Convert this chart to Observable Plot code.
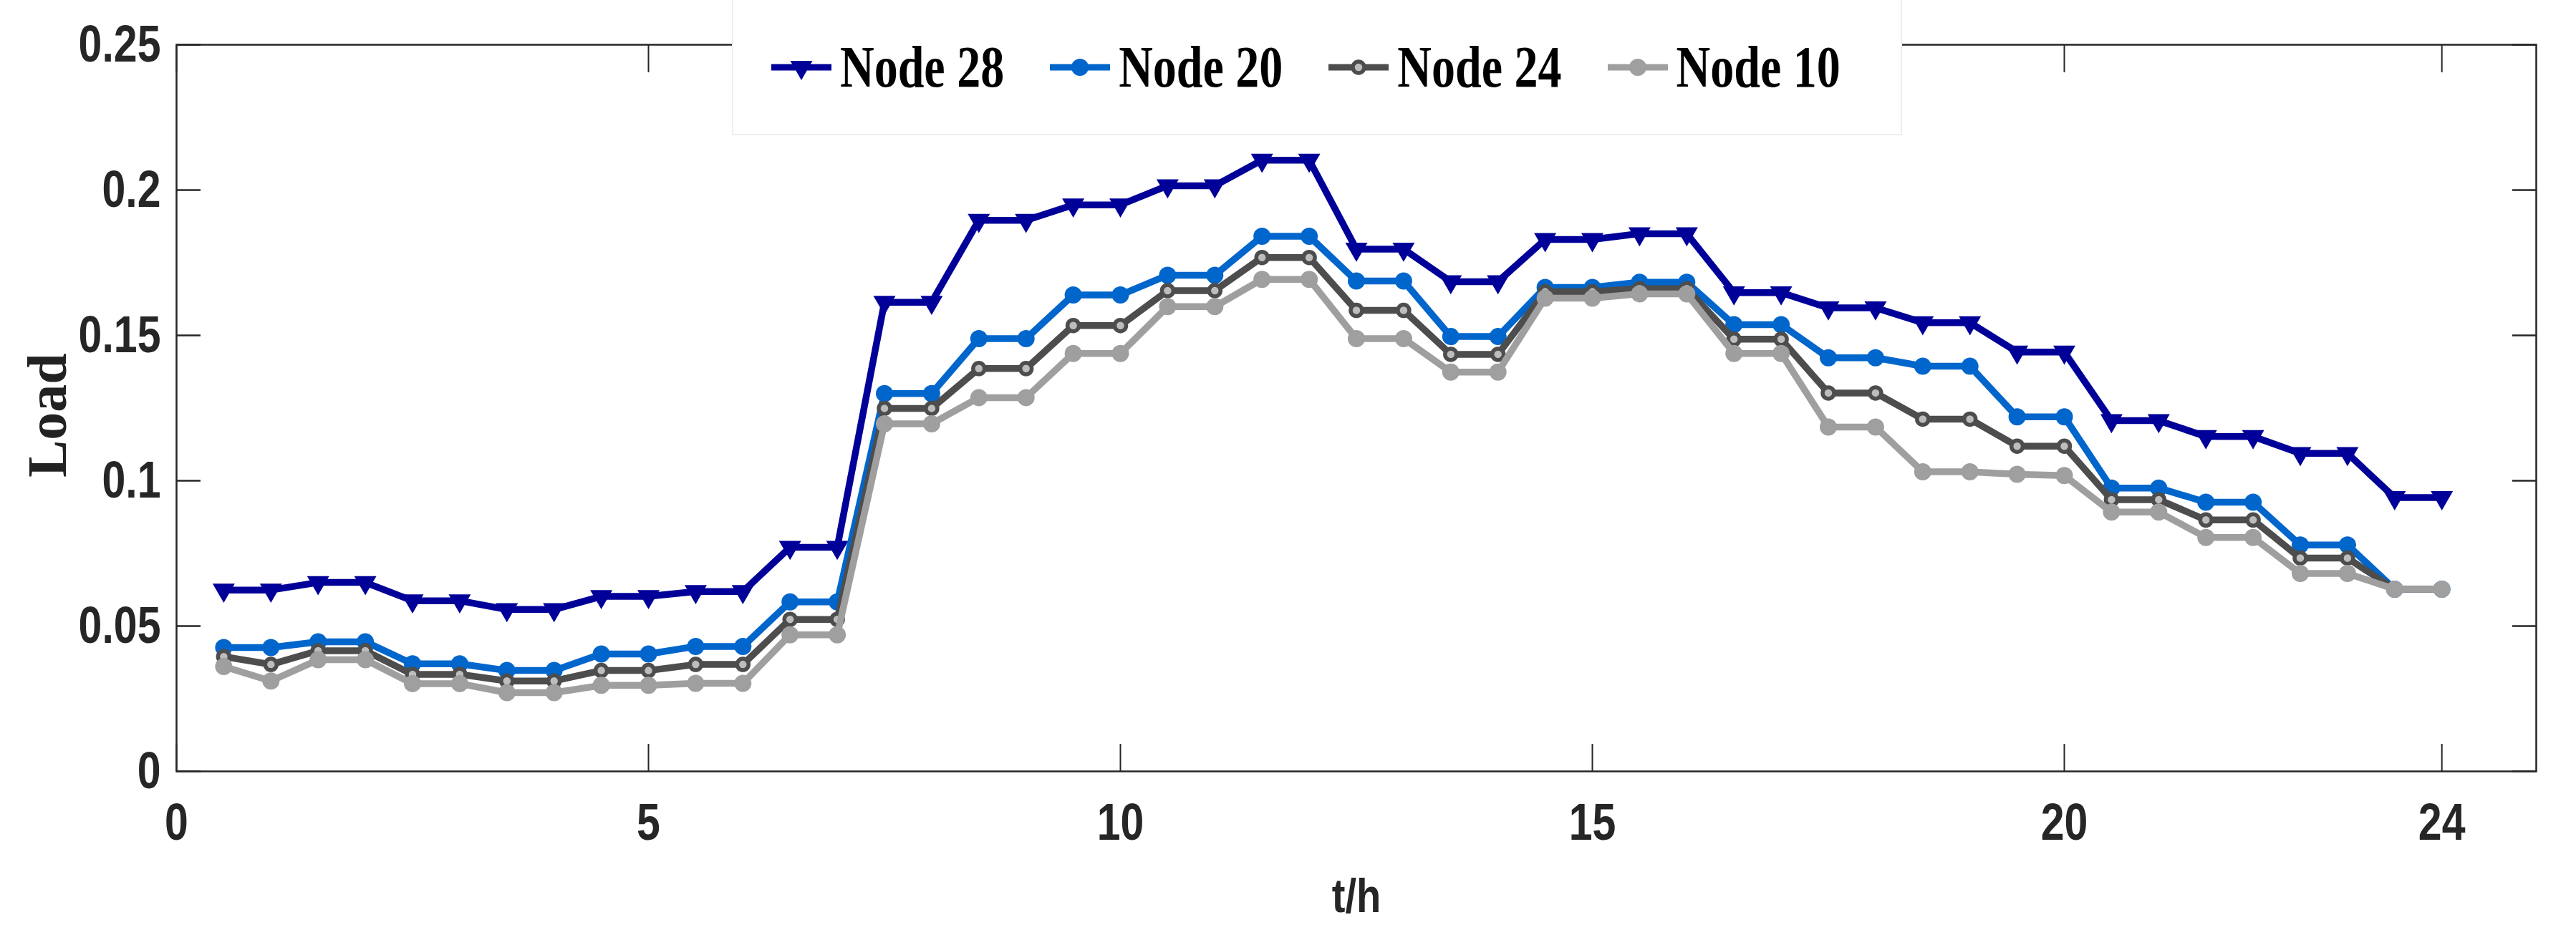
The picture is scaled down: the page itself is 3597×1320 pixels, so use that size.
<!DOCTYPE html>
<html><head><meta charset="utf-8">
<script src="https://cdn.jsdelivr.net/npm/d3@7"></script>
<script src="https://cdn.jsdelivr.net/npm/@observablehq/plot@0.6"></script>
<style>
html,body{margin:0;padding:0;background:#fff;}
#wrap{position:relative;width:3597px;height:1320px;}
#legend{position:absolute;left:1022px;top:0;width:1634px;height:189px;background:#fff;border:2px solid #efefef;border-top:none;display:flex;align-items:center;box-sizing:border-box;padding-left:53px;}
.item{display:flex;align-items:center;margin-right:64px;}
.item svg{display:block;margin-right:12px;}
.item span{font-family:"Liberation Serif","Times New Roman",serif;font-weight:bold;font-size:66px;display:inline-block;transform:scaleY(1.24);line-height:1;color:#000;}
</style></head><body><div id="wrap"></div>
<script>
// ---- data ----
const hours = [0.5,1,1.5,2,2.5,3,3.5,4,4.5,5,5.5,6,6.5,7,7.5,8,8.5,9,9.5,10,10.5,11,11.5,12,
               12.5,13,13.5,14,14.5,15,15.5,16,16.5,17,17.5,18,18.5,19,19.5,20,20.5,21,21.5,22,22.5,23,23.5,24];
const seriesNames = ["Node 28","Node 20","Node 24","Node 10"];
const node28 = [0.0624,0.0624,0.0650,0.0650,0.0587,0.0587,0.0557,0.0557,0.0602,0.0602,0.0619,0.0619,0.0771,0.0771,
                0.1614,0.1614,0.1896,0.1896,0.1949,0.1949,0.2015,0.2015,0.2103,0.2103,0.1797,0.1797,0.1685,0.1685,0.1830,0.1830,0.1850,0.1850,
                0.1647,0.1647,0.1595,0.1595,0.1544,0.1544,0.1443,0.1443,0.1207,0.1207,0.1152,0.1152,0.1094,0.1094,0.0942,0.0942];
const node20 = [0.0426,0.0426,0.0446,0.0446,0.0370,0.0370,0.0347,0.0347,0.0404,0.0404,0.0430,0.0430,0.0583,0.0583,
                0.1300,0.1300,0.1489,0.1489,0.1639,0.1639,0.1707,0.1707,0.1841,0.1841,0.1687,0.1687,0.1496,0.1496,0.1665,0.1665,0.1683,0.1683,
                0.1537,0.1537,0.1423,0.1423,0.1394,0.1394,0.1220,0.1220,0.0975,0.0975,0.0926,0.0926,0.0779,0.0779,0.0627,0.0627];
const node24 = [0.0395,0.0368,0.0415,0.0415,0.0334,0.0334,0.0311,0.0311,0.0347,0.0347,0.0368,0.0368,0.0523,0.0523,
                0.1249,0.1249,0.1386,0.1386,0.1534,0.1534,0.1654,0.1654,0.1768,0.1768,0.1586,0.1586,0.1435,0.1435,0.1650,0.1650,0.1661,0.1661,
                0.1487,0.1487,0.1302,0.1302,0.1212,0.1212,0.1119,0.1119,0.0935,0.0935,0.0865,0.0865,0.0734,0.0734,0.0627,0.0627];
const node10 = [0.0361,0.0311,0.0384,0.0384,0.0302,0.0302,0.0271,0.0271,0.0296,0.0296,0.0303,0.0303,0.0470,0.0470,
                0.1196,0.1196,0.1286,0.1286,0.1438,0.1438,0.1599,0.1599,0.1693,0.1693,0.1489,0.1489,0.1374,0.1374,0.1628,0.1628,0.1643,0.1643,
                0.1438,0.1438,0.1185,0.1185,0.1031,0.1031,0.1022,0.1018,0.0892,0.0892,0.0805,0.0805,0.0681,0.0681,0.0627,0.0627];
const xTicks = [0,5,10,15,20,24];
const xTickLabels = ["0","5","10","15","20","24"];
const yTicks = [0,0.05,0.1,0.15,0.2,0.25];
const yTickLabels = ["0","0.05","0.1","0.15","0.2","0.25"];
const xLabel = "t/h";
const yLabel = "Load";

// ---- styles ----
const styles = {
  "Node 28": {color:"#000099", symbol:"triangle", rotate:180, r:11.5, fill:"#000099", stroke:"none", sw:0, lw:9.5},
  "Node 20": {color:"#0066cc", symbol:"circle", rotate:0, r:12, fill:"#0066cc", stroke:"none", sw:0, lw:9.5},
  "Node 24": {color:"#4d4d4d", symbol:"circle", rotate:0, r:8, fill:"#bdbdbd", stroke:"#4d4d4d", sw:5.5, lw:9.5},
  "Node 10": {color:"#9f9f9f", symbol:"circle", rotate:0, r:12, fill:"#9f9f9f", stroke:"none", sw:0, lw:9.5}
};
const valuesBy = {"Node 28":node28,"Node 20":node20,"Node 24":node24,"Node 10":node10};
const rows = {};
for (const n of seriesNames) rows[n] = hours.map((h,i)=>({t:h, load:valuesBy[n][i], node:n}));

const tickFont = '"Liberation Sans",Arial,sans-serif';
const serifFont = '"Liberation Serif","Times New Roman",serif';

const marks = [];
for (const n of seriesNames) {
  const s = styles[n];
  marks.push(Plot.line(rows[n], {x:"t", y:"load", stroke:s.color, strokeWidth:s.lw, strokeLinejoin:"round"}));
  marks.push(Plot.dot(rows[n], {x:"t", y:"load", symbol:s.symbol, rotate:s.rotate, r:s.r, fill:s.fill, stroke:s.stroke, strokeWidth:s.sw}));
}
marks.push(Plot.frame({stroke:"#262626", strokeWidth:2.5}));
// tick labels
marks.push(Plot.axisX({anchor:"bottom", ticks:xTicks, tickSize:0, tickPadding:44, label:null,
  tickFormat:d=>xTickLabels[xTicks.indexOf(d)], fontSize:72, fontWeight:"bold", fill:"#262626"}));
marks.push(Plot.axisY({anchor:"left", ticks:yTicks, tickSize:0, tickPadding:22, label:null,
  tickFormat:d=>yTickLabels[yTicks.indexOf(d)], fontSize:72, fontWeight:"bold", fill:"#262626"}));
// inward tick marks on all four sides
marks.push(Plot.axisX({anchor:"bottom", ticks:xTicks, tickSize:-38, label:null, tickFormat:()=> "", stroke:"#262626", strokeWidth:2}));
marks.push(Plot.axisX({anchor:"top", ticks:xTicks, tickSize:-38, label:null, tickFormat:()=> "", stroke:"#262626", strokeWidth:2}));
marks.push(Plot.axisY({anchor:"left", ticks:yTicks, tickSize:-34, label:null, tickFormat:()=> "", stroke:"#262626", strokeWidth:2.5}));
marks.push(Plot.axisY({anchor:"right", ticks:yTicks, tickSize:-34, label:null, tickFormat:()=> "", stroke:"#262626", strokeWidth:2.5}));
// axis titles
marks.push(Plot.text([xLabel], {frameAnchor:"bottom", text:d=>d, dy:175, lineAnchor:"middle", textAnchor:"middle", fontSize:66, fontWeight:"bold", fontFamily:tickFont, fill:"#262626"}));
marks.push(Plot.text([yLabel], {frameAnchor:"left", text:d=>d, dx:-179, dy:10, rotate:-90, lineAnchor:"middle", textAnchor:"middle", fontSize:78, fontWeight:"bold", fontFamily:serifFont, fill:"#222"}));

const chart = Plot.plot({
  width:3597, height:1320,
  marginLeft:246, marginRight:56, marginTop:62, marginBottom:243,
  x:{domain:[0,25]}, y:{domain:[0,0.25]},
  style:{fontFamily:tickFont, background:"#fff", overflow:"visible"},
  marks
});
const wrap = document.getElementById("wrap");
wrap.appendChild(chart);

// condense the sans-serif labels horizontally (narrow bold look of the original)
const condenseSet = new Set([...xTickLabels, ...yTickLabels, xLabel]);
chart.querySelectorAll("text").forEach(t => {
  const s = t.textContent;
  if (!condenseSet.has(s) || s === "") return;
  const sx = s === xLabel ? 0.85 : 0.82;
  const tr = t.getAttribute("transform");
  if (tr && /translate/.test(tr)) {
    t.setAttribute("transform", tr + ` scale(${sx},1)`);
  } else {
    const x = parseFloat(t.getAttribute("x")) || 0, y = parseFloat(t.getAttribute("y")) || 0;
    t.setAttribute("transform", `translate(${x},${y}) scale(${sx},1) translate(${-x},${-y})`);
  }
});

// legend (HTML overlay at the top)
const legend = document.createElement("div");
legend.id = "legend";
for (const n of seriesNames) {
  const s = styles[n];
  const item = document.createElement("div");
  item.className = "item";
  const svg = d3.create("svg").attr("width",84).attr("height",44);
  svg.append("line").attr("x1",0).attr("x2",84).attr("y1",22).attr("y2",22).attr("stroke",s.color).attr("stroke-width",9);
  const sym = s.symbol === "triangle" ? d3.symbolTriangle : d3.symbolCircle;
  svg.append("path").attr("d", d3.symbol(sym, Math.PI*s.r*s.r)())
     .attr("transform", `translate(42,22) rotate(${s.rotate})`)
     .attr("fill", s.fill).attr("stroke", s.stroke).attr("stroke-width", s.sw);
  item.appendChild(svg.node());
  const sp = document.createElement("span");
  sp.textContent = n;
  item.appendChild(sp);
  legend.appendChild(item);
}
wrap.appendChild(legend);
</script></body></html>
